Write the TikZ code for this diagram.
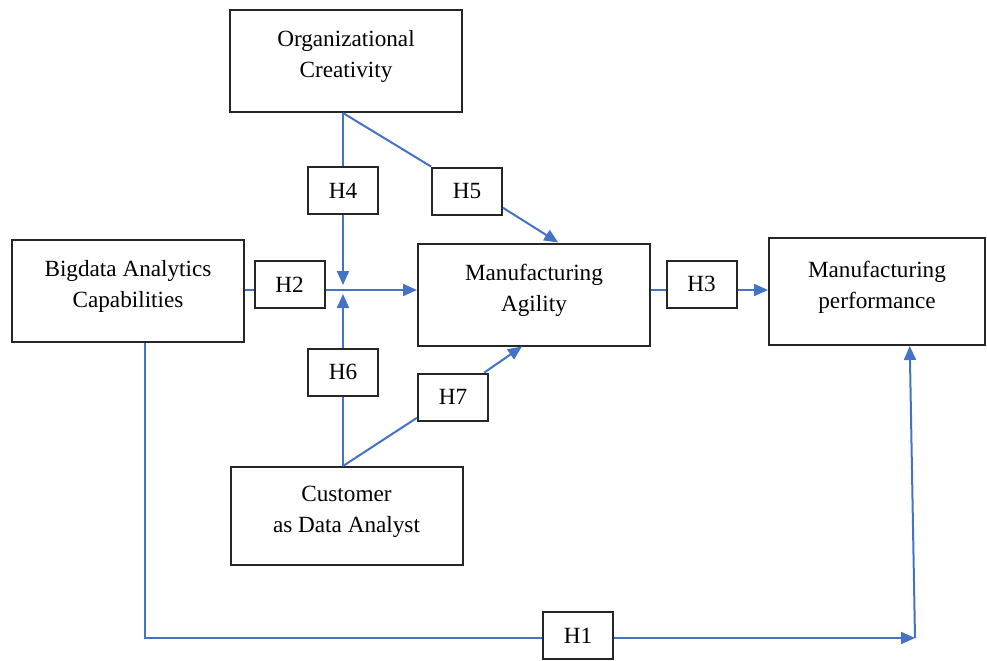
\documentclass[tikz,border=0pt]{standalone}
\usepackage{fontspec}
\setmainfont{Liberation Serif}
\usetikzlibrary{arrows.meta}
\definecolor{LinkBlue}{RGB}{68,114,196}
\newcommand{\boxtext}[1]{\raisebox{2.5pt}[\height][\depth]{\begin{tabular}{@{}c@{}}#1\end{tabular}}}

\begin{document}
\begin{tikzpicture}[x=0.5pt,y=-0.5pt]
\useasboundingbox (0,0) rectangle (987,660);
\tikzset{
  every node/.style={font=\fontsize{11.6}{15.5}\selectfont},
  construct/.style={draw=black!85, line width=1pt, minimum width=116pt, minimum height=51pt, inner sep=0pt},
  hyp/.style={draw=black!85, line width=1pt, minimum width=35pt, minimum height=23.5pt, inner sep=0pt},
  link/.style={draw=LinkBlue, line width=1pt},
  effect/.style={link, -{Triangle[length=7pt,width=6pt]}},
}
\node[construct] (oc) at (346,61) {\boxtext{Organizational\\Creativity}};
\node[construct] (bac) at (128,290.5) {\boxtext{Bigdata Analytics\\Capabilities}};
\node[construct] (ma) at (534,294.5) {\boxtext{Manufacturing\\Agility}};
\node[construct, minimum width=108pt, minimum height=53.5pt] (mp) at (877,291.5) {\boxtext{Manufacturing\\performance}};
\node[construct, minimum height=49pt] (cda) at (346.5,516) {\boxtext{Customer\\as Data Analyst}};

\node[hyp] (h4) at (343,190.5) {H4};
\node[hyp] (h5) at (467,191) {H5};
\node[hyp] (h2) at (289.5,284.5) {H2};
\node[hyp] (h6) at (343,372) {H6};
\node[hyp] (h7) at (453,397) {H7};
\node[hyp] (h3) at (701.5,284) {H3};
\node[hyp] (h1) at (578,635.5) {H1};

\coordinate (jn) at (343,290);
\coordinate (corner) at (915,638);

\draw[link] (oc.south -| jn) -- (h4.north);
\draw[effect, shorten >=2.5pt] (h4.south) -- (jn);
\draw[link] (oc.south -| jn) -- (h5.north west);
\draw[effect] (h5.-25) -- (ma.65);
\draw[link] (bac.east |- jn) -- (h2.west |- jn);
\draw[effect] (h2.east |- jn) -- (ma.west |- jn);
\draw[link] (cda.north -| jn) -- (h6.south);
\draw[effect, shorten >=2pt] (h6.north) -- (jn);
\draw[link] (cda.north -| jn) -- (h7.210);
\draw[effect] (h7.38) -- (ma.-103);
\draw[link] (ma.east |- jn) -- (h3.west |- jn);
\draw[effect] (h3.east |- jn) -- (mp.west |- jn);
\draw[link] ([xshift=8.5pt]bac.south) |- (h1.west |- corner);
\draw[effect] (h1.east |- corner) -- (corner);
\draw[effect] (corner) -- (mp.-59);
\end{tikzpicture}
\end{document}
